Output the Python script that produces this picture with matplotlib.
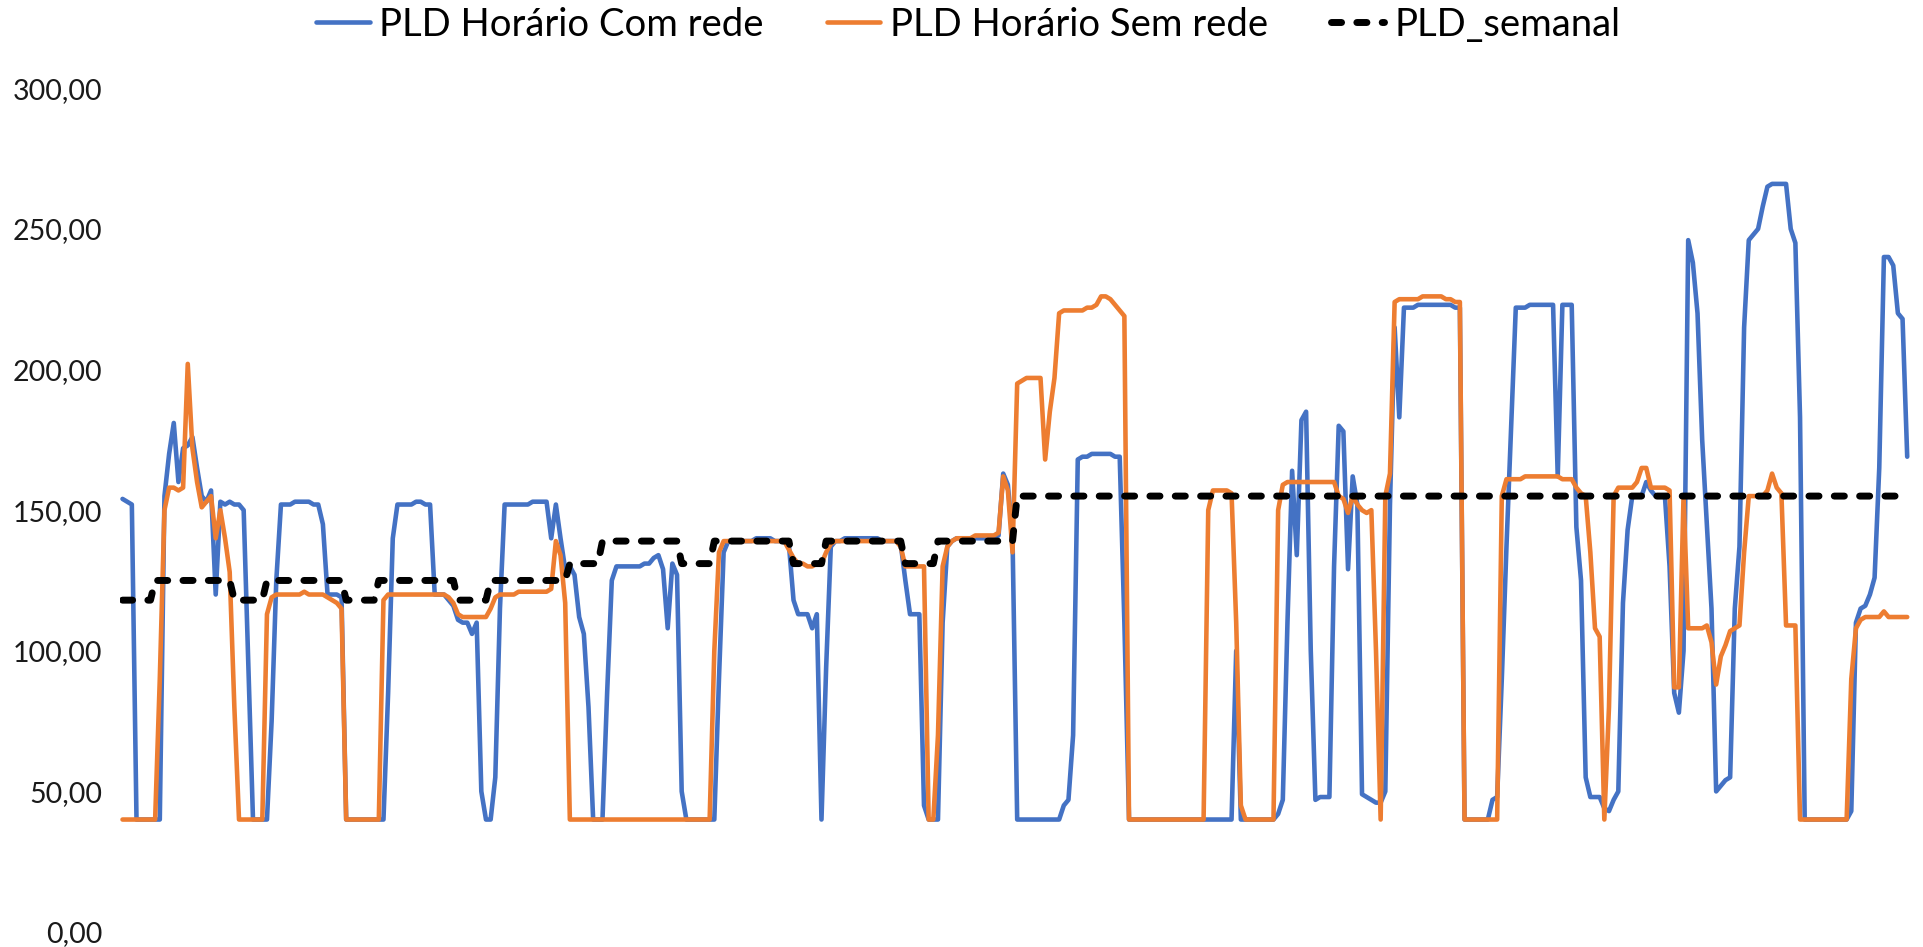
import matplotlib
matplotlib.use("Agg")
import matplotlib.pyplot as plt
from matplotlib.ticker import FuncFormatter, MultipleLocator

plt.rcParams['font.family'] = ['Lato', 'DejaVu Sans']

# PLD horário com rede (R$/MWh), 16 dias x 24 horas
pld_com_rede = [
    154, 153, 152, 40, 40, 40, 40, 40, 40, 155, 170, 181, 160, 172, 173, 176, 165, 155, 153, 157, 120, 153, 152, 153,
    152, 152, 150, 95, 40, 40, 40, 40, 75, 125, 152, 152, 152, 153, 153, 153, 153, 152, 152, 145, 120, 120, 120, 119,
    40, 40, 40, 40, 40, 40, 40, 40, 40, 85, 140, 152, 152, 152, 152, 153, 153, 152, 152, 120, 120, 120, 118, 116,
    111, 110, 110, 106, 110, 50, 40, 40, 55, 115, 152, 152, 152, 152, 152, 152, 153, 153, 153, 153, 140, 152, 140, 129,
    130, 127, 112, 106, 80, 40, 40, 40, 85, 125, 130, 130, 130, 130, 130, 130, 131, 131, 133, 134, 129, 108, 131, 127,
    50, 40, 40, 40, 40, 40, 40, 40, 90, 135, 139, 139, 139, 139, 139, 139, 140, 140, 140, 140, 139, 139, 139, 138,
    118, 113, 113, 113, 108, 113, 40, 94, 137, 139, 139, 140, 140, 140, 140, 140, 140, 140, 140, 139, 139, 139, 139, 138,
    125, 113, 113, 113, 45, 40, 40, 40, 110, 137, 139, 140, 140, 140, 140, 140, 140, 140, 140, 140, 141, 163, 159, 140,
    40, 40, 40, 40, 40, 40, 40, 40, 40, 40, 45, 47, 70, 168, 169, 169, 170, 170, 170, 170, 170, 169, 169, 110,
    40, 40, 40, 40, 40, 40, 40, 40, 40, 40, 40, 40, 40, 40, 40, 40, 40, 40, 40, 40, 40, 40, 40, 100,
    40, 40, 40, 40, 40, 40, 40, 40, 42, 47, 110, 164, 134, 182, 185, 100, 47, 48, 48, 48, 130, 180, 178, 129,
    162, 152, 49, 48, 47, 46, 46, 50, 152, 215, 183, 222, 222, 222, 223, 223, 223, 223, 223, 223, 223, 223, 222, 222,
    40, 40, 40, 40, 40, 40, 47, 48, 90, 137, 180, 222, 222, 222, 223, 223, 223, 223, 223, 223, 162, 223, 223, 223,
    144, 125, 55, 48, 48, 48, 44, 43, 47, 50, 117, 143, 155, 155, 155, 160, 157, 155, 155, 155, 130, 85, 78, 100,
    246, 238, 220, 175, 145, 115, 50, 52, 54, 55, 115, 137, 215, 246, 248, 250, 258, 265, 266, 266, 266, 266, 250, 245,
    183, 40, 40, 40, 40, 40, 40, 40, 40, 40, 40, 43, 110, 115, 116, 120, 126, 165, 240, 240, 237, 220, 218, 169,
]

# PLD horário sem rede
pld_sem_rede = [
    40, 40, 40, 40, 40, 40, 40, 40, 90, 150, 158, 158, 157, 158, 202, 172, 160, 151, 153, 155, 140, 150, 140, 128,
    80, 40, 40, 40, 40, 40, 40, 113, 119, 120, 120, 120, 120, 120, 120, 121, 120, 120, 120, 120, 119, 118, 117, 115,
    40, 40, 40, 40, 40, 40, 40, 40, 118, 120, 120, 120, 120, 120, 120, 120, 120, 120, 120, 120, 120, 120, 119, 117,
    113, 112, 112, 112, 112, 112, 112, 115, 119, 120, 120, 120, 120, 121, 121, 121, 121, 121, 121, 121, 122, 139, 134, 117,
    40, 40, 40, 40, 40, 40, 40, 40, 40, 40, 40, 40, 40, 40, 40, 40, 40, 40, 40, 40, 40, 40, 40, 40,
    40, 40, 40, 40, 40, 40, 40, 100, 135, 139, 139, 139, 139, 139, 139, 139, 139, 139, 139, 139, 139, 139, 139, 136,
    133, 131, 131, 130, 130, 131, 131, 135, 138, 139, 139, 139, 139, 139, 139, 139, 139, 139, 139, 139, 139, 139, 139, 137,
    130, 130, 130, 130, 130, 40, 40, 70, 130, 137, 139, 140, 140, 140, 140, 141, 141, 141, 141, 141, 142, 162, 157, 135,
    195, 196, 197, 197, 197, 197, 168, 185, 197, 220, 221, 221, 221, 221, 221, 222, 222, 223, 226, 226, 225, 223, 221, 219,
    40, 40, 40, 40, 40, 40, 40, 40, 40, 40, 40, 40, 40, 40, 40, 40, 40, 150, 157, 157, 157, 157, 156, 110,
    45, 40, 40, 40, 40, 40, 40, 40, 150, 159, 160, 160, 160, 160, 160, 160, 160, 160, 160, 160, 160, 155, 154, 149,
    155, 152, 150, 149, 150, 100, 40, 155, 163, 224, 225, 225, 225, 225, 225, 226, 226, 226, 226, 226, 225, 225, 224, 224,
    40, 40, 40, 40, 40, 40, 40, 40, 155, 161, 161, 161, 161, 162, 162, 162, 162, 162, 162, 162, 162, 161, 161, 161,
    158, 156, 155, 135, 108, 105, 40, 80, 155, 158, 158, 158, 158, 160, 165, 165, 158, 158, 158, 158, 157, 87, 87, 155,
    108, 108, 108, 108, 109, 103, 88, 98, 102, 107, 108, 109, 135, 155, 155, 155, 155, 157, 163, 158, 156, 109, 109, 109,
    40, 40, 40, 40, 40, 40, 40, 40, 40, 40, 40, 90, 108, 111, 112, 112, 112, 112, 114, 112, 112, 112, 112, 112,
]

# PLD semanal por patamar
pld_semanal = [
    118, 118, 118, 118, 118, 118, 118, 125, 125, 125, 125, 125, 125, 125, 125, 125, 125, 125, 125, 125, 125, 125, 125, 125,
    118, 118, 118, 118, 118, 118, 118, 125, 125, 125, 125, 125, 125, 125, 125, 125, 125, 125, 125, 125, 125, 125, 125, 125,
    118, 118, 118, 118, 118, 118, 118, 125, 125, 125, 125, 125, 125, 125, 125, 125, 125, 125, 125, 125, 125, 125, 125, 125,
    118, 118, 118, 118, 118, 118, 118, 125, 125, 125, 125, 125, 125, 125, 125, 125, 125, 125, 125, 125, 125, 125, 125, 125,
    131, 131, 131, 131, 131, 131, 131, 139, 139, 139, 139, 139, 139, 139, 139, 139, 139, 139, 139, 139, 139, 139, 139, 139,
    131, 131, 131, 131, 131, 131, 131, 139, 139, 139, 139, 139, 139, 139, 139, 139, 139, 139, 139, 139, 139, 139, 139, 139,
    131, 131, 131, 131, 131, 131, 131, 139, 139, 139, 139, 139, 139, 139, 139, 139, 139, 139, 139, 139, 139, 139, 139, 139,
    131, 131, 131, 131, 131, 131, 131, 139, 139, 139, 139, 139, 139, 139, 139, 139, 139, 139, 139, 139, 139, 139, 139, 139,
    155, 155, 155, 155, 155, 155, 155, 155, 155, 155, 155, 155, 155, 155, 155, 155, 155, 155, 155, 155, 155, 155, 155, 155,
    155, 155, 155, 155, 155, 155, 155, 155, 155, 155, 155, 155, 155, 155, 155, 155, 155, 155, 155, 155, 155, 155, 155, 155,
    155, 155, 155, 155, 155, 155, 155, 155, 155, 155, 155, 155, 155, 155, 155, 155, 155, 155, 155, 155, 155, 155, 155, 155,
    155, 155, 155, 155, 155, 155, 155, 155, 155, 155, 155, 155, 155, 155, 155, 155, 155, 155, 155, 155, 155, 155, 155, 155,
    155, 155, 155, 155, 155, 155, 155, 155, 155, 155, 155, 155, 155, 155, 155, 155, 155, 155, 155, 155, 155, 155, 155, 155,
    155, 155, 155, 155, 155, 155, 155, 155, 155, 155, 155, 155, 155, 155, 155, 155, 155, 155, 155, 155, 155, 155, 155, 155,
    155, 155, 155, 155, 155, 155, 155, 155, 155, 155, 155, 155, 155, 155, 155, 155, 155, 155, 155, 155, 155, 155, 155, 155,
    155, 155, 155, 155, 155, 155, 155, 155, 155, 155, 155, 155, 155, 155, 155, 155, 155, 155, 155, 155, 155, 155, 155, 155,
]

labels = ['PLD Horário Com rede', 'PLD Horário Sem rede', 'PLD_semanal']


def run():
    horas = list(range(len(pld_com_rede)))

    fig = plt.figure(figsize=(19.23, 9.47), dpi=100)
    ax = fig.add_axes([0.0625, 0.0158, 0.9305, 0.8910])

    ax.plot(horas, pld_com_rede, color='#4472C4', lw=3.3,
            solid_joinstyle='round', solid_capstyle='round', label=labels[0])
    ax.plot(horas, pld_sem_rede, color='#ED7D31', lw=3.3,
            solid_joinstyle='round', solid_capstyle='round', label=labels[1])
    ax.plot(horas, pld_semanal, color='black', lw=5.0, dashes=(1.45, 2.2),
            dash_capstyle='round', label=labels[2])

    ax.set_xlim(-0.5, len(horas) - 0.5)
    ax.set_ylim(0, 300)
    ax.yaxis.set_major_locator(MultipleLocator(50))
    ax.yaxis.set_major_formatter(FuncFormatter(lambda v, p: f"{v:.2f}".replace('.', ',')))
    ax.set_xticks([])
    ax.tick_params(axis='y', length=0, pad=13, labelsize=20.5, labelcolor='#1a1a1a')
    for s in ax.spines.values():
        s.set_visible(False)

    fig.legend(loc='center', bbox_to_anchor=(0.5035, 0.974), ncol=3, frameon=False,
               fontsize=27.5, handlelength=1.4, handletextpad=0.25, columnspacing=1.65)

    fig.savefig('out.png', dpi=100)


if __name__ == "__main__":
    run()
